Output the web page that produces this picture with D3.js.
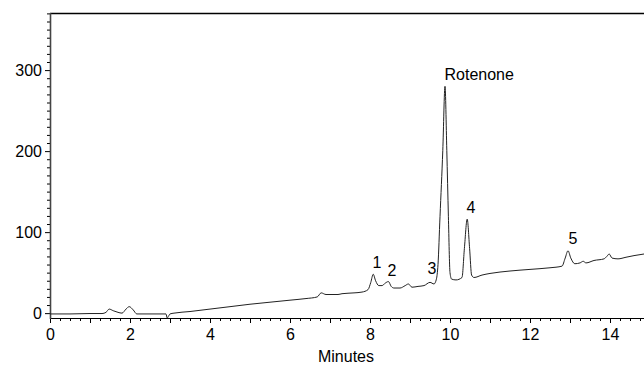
<!DOCTYPE html>
<html><head><meta charset="utf-8">
<script src="https://cdn.jsdelivr.net/npm/d3@7"></script>
<style>body{margin:0;background:#fff}svg{display:block}</style>
</head><body><svg id="c" width="644" height="366"></svg>
<script>
// chromatogram trace (minutes, mAU)
const times = [0, 0.5, 1.0, 1.3, 1.4, 1.48, 1.58, 1.7, 1.8, 1.9, 1.98, 2.08, 2.17, 2.4, 2.9, 2.93, 2.96, 3.0, 3.1, 3.5, 4.0, 4.5, 5.0, 5.5, 6.0, 6.4, 6.68, 6.78, 6.9, 7.2, 7.3, 7.6, 7.8, 7.95, 8.02, 8.08, 8.14, 8.22, 8.3, 8.38, 8.46, 8.53, 8.6, 8.75, 8.88, 8.96, 9.05, 9.2, 9.35, 9.5, 9.6, 9.66, 9.7, 9.75, 9.82, 9.875, 9.92, 9.96, 10.0, 10.04, 10.15, 10.3, 10.36, 10.43, 10.49, 10.54, 10.6, 10.8, 11.0, 11.5, 12.0, 12.5, 12.8, 12.88, 12.95, 13.02, 13.12, 13.25, 13.33, 13.4, 13.6, 13.85, 13.92, 13.98, 14.05, 14.2, 14.4, 14.6, 14.85];
const signal = [-1, -1, -0.5, -0.5, 1, 5, 3, 1, 0, 5, 8, 4, -1, -1, -1, -6, -4, -1, 0, 2, 5, 8, 11, 13.5, 16, 18, 20, 25, 23, 23, 24, 25, 26, 29, 38, 48, 40, 34, 34, 37, 39, 33, 31, 31, 34, 36, 32, 33, 34, 38, 36, 42, 60, 119, 201, 280, 201, 119, 50, 42, 41, 44, 80, 116, 80, 47, 44, 47, 49, 52, 54, 56, 58, 68, 77, 68, 61, 62, 64, 62, 65, 67, 70, 73, 68, 67, 69, 71, 73];

const xMajorTicks = [0, 2, 4, 6, 8, 10, 12, 14];
const yMajorTicks = [0, 100, 200, 300];
const xLabel = "Minutes";

const peakNames = ["1", "2", "3", "Rotenone", "4", "5"];
const peakNameTimes = [8.175, 8.55, 9.55, 10.73, 10.525, 13.075];
const peakNameValues = [56, 46, 48.5, 288, 124, 85.5];

const svg = d3.select("#c");
const x = d3.scaleLinear().domain([0, 14.85]).range([50, 644]);
const y = d3.scaleLinear().domain([-6, 370]).range([318, 13.4]);
const font = "'Liberation Sans', Arial, sans-serif";

// frame lines
svg.append("line").attr("x1", 50).attr("x2", 644).attr("y1", 13.5).attr("y2", 13.5)
  .attr("stroke", "#000").attr("stroke-width", 1.5);

// x axis minor
const xMinor = d3.range(0, 14.85, 0.25).filter(v => Math.abs(v - Math.round(v)) > 1e-6);
const xInt = d3.range(1, 15, 2);
const gx = svg.append("g").attr("transform", "translate(0,318)");
gx.call(d3.axisBottom(x).tickValues(xMinor).tickSize(3).tickFormat(""))
  .call(g => g.select(".domain").remove());
gx.append("g").call(d3.axisBottom(x).tickValues(xInt).tickSize(5).tickFormat(""))
  .call(g => g.select(".domain").remove());
gx.append("g").call(d3.axisBottom(x).tickValues(xMajorTicks).tickSize(5).tickPadding(6).tickFormat(d3.format("d")))
  .call(g => g.select(".domain").remove())
  .call(g => g.selectAll("text").attr("font-size", 16).attr("font-family", font).attr("fill", "#000"));
gx.selectAll("line").attr("stroke", "#000");
svg.append("line").attr("x1", 50).attr("x2", 644).attr("y1", 318.5).attr("y2", 318.5)
  .attr("stroke", "#000").attr("stroke-width", 1);

// y axis
const yMinor = d3.range(-0, 371, 10).filter(v => v % 100 !== 0);
const gy = svg.append("g").attr("transform", "translate(50,0)");
gy.call(d3.axisLeft(y).tickValues(yMinor).tickSize(3).tickFormat(""))
  .call(g => g.select(".domain").remove());
gy.append("g").call(d3.axisLeft(y).tickValues(yMajorTicks).tickSize(5).tickPadding(3).tickFormat(d3.format("d")))
  .call(g => g.select(".domain").remove())
  .call(g => g.selectAll("text").attr("font-size", 16).attr("font-family", font).attr("fill", "#000"));
gy.selectAll("line").attr("stroke", "#000");
svg.append("line").attr("x1", 50.5).attr("x2", 50.5).attr("y1", 13).attr("y2", 319)
  .attr("stroke", "#444").attr("stroke-width", 1.6);

// x label
svg.append("text").attr("x", x(7.4)).attr("y", 362).attr("text-anchor", "middle")
  .attr("font-size", 16).attr("font-family", font).text(xLabel);

// trace
const pts = times.map((t, i) => [t, signal[i]]);
svg.append("path").datum(pts)
  .attr("fill", "none").attr("stroke", "#222").attr("stroke-width", 1)
  .attr("d", d3.line().x(d => x(d[0])).y(d => y(d[1])).curve(d3.curveMonotoneX));

// peak labels
svg.selectAll("text.pk").data(peakNames).join("text").attr("class", "pk")
  .attr("x", (d, i) => x(peakNameTimes[i])).attr("y", (d, i) => y(peakNameValues[i]))
  .attr("text-anchor", "middle").attr("font-size", 16).attr("font-family", font)
  .text(d => d);
</script></body></html>
